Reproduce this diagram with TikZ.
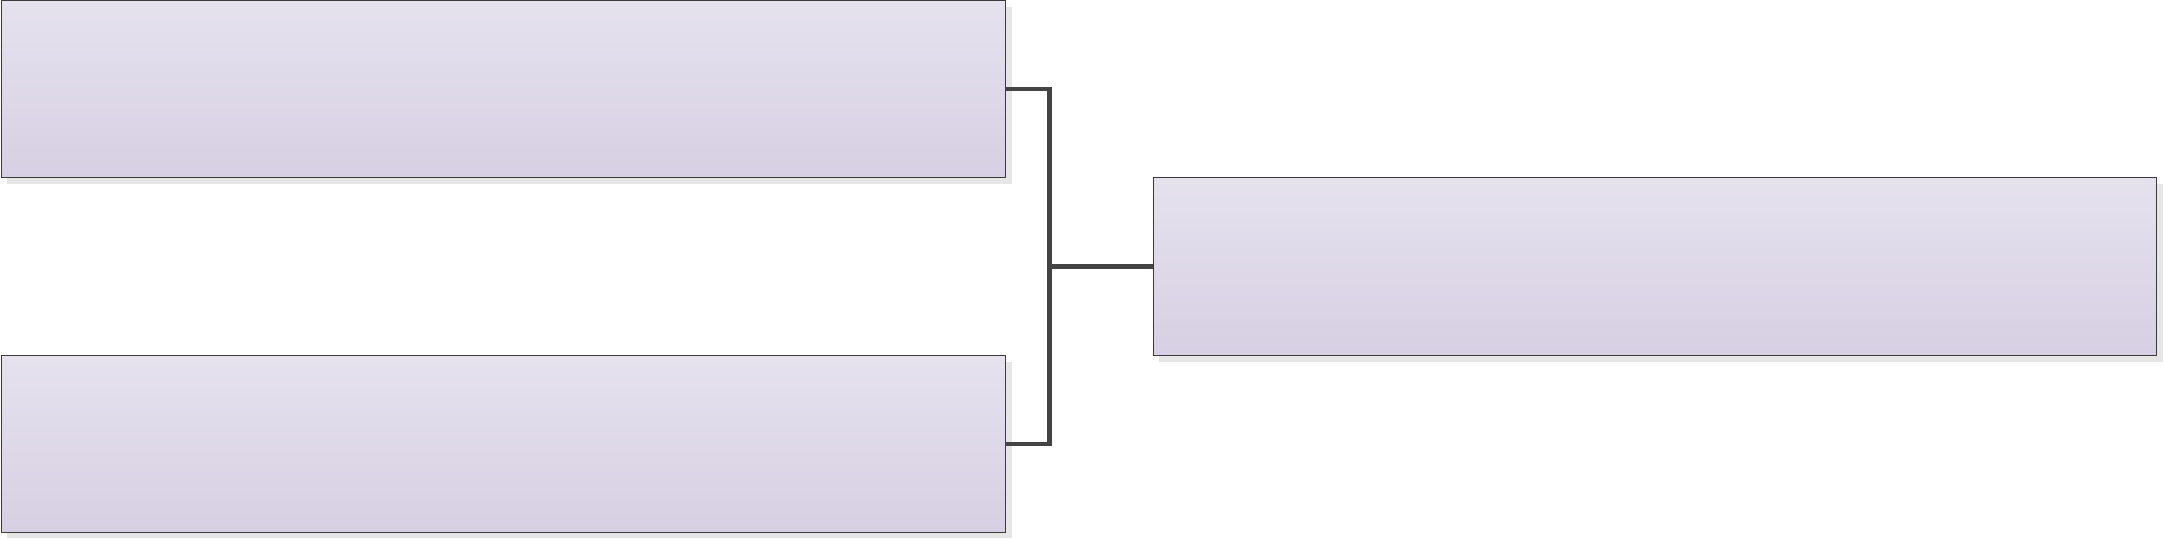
\documentclass[tikz,border=0pt]{standalone}
\usetikzlibrary{shadows}
\definecolor{boxtop}{HTML}{E5E2EE}
\definecolor{boxbot}{HTML}{D7CFE3}
\definecolor{boxline}{HTML}{3A3A3A}
\definecolor{conn}{HTML}{444444}
\definecolor{shade}{HTML}{E6E6E6}
\begin{document}
\begin{tikzpicture}[x=1pt,y=-1pt,
  panel/.style={draw=boxline, line width=0.9pt, top color=boxtop, bottom color=boxbot,
    inner sep=0pt, outer sep=0pt, minimum width=1004.5pt, rectangle,
    drop shadow={shadow xshift=6pt, shadow yshift=-6pt, fill=shade, opacity=1}},
  link/.style={draw=conn, line width=4.5pt}]
\useasboundingbox (0,0) rectangle (2164,539);
\node[panel, minimum height=177pt, anchor=north west] (a) at (1,0.5) {};
\node[panel, minimum height=176.5pt, anchor=north west] (b) at (1,355.5) {};
\node[panel, minimum width=1003.5pt, minimum height=178pt, anchor=north west] (c) at (1153,177.5) {};
\coordinate (j) at (1049.5,266.5);
\draw[link] ([xshift=-1pt]a.east) -| (j) |- ([xshift=-1pt]b.east);
\draw[link] (j) -- (c.west);
\end{tikzpicture}
\end{document}
